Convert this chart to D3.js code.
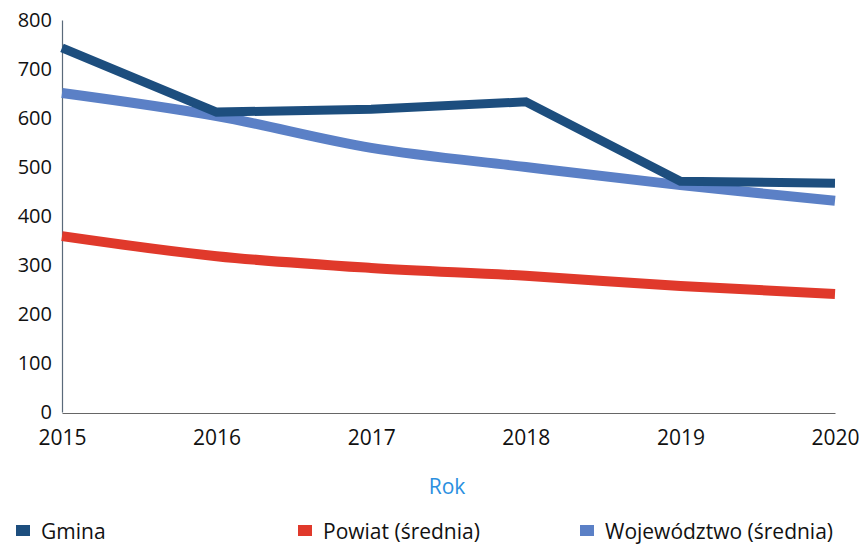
<!DOCTYPE html>
<html>
<head>
<meta charset="utf-8">
<script src="https://cdn.jsdelivr.net/npm/d3@7"></script>
<style>
  html, body { margin: 0; padding: 0; background: #fff; }
  svg { display: block; }
</style>
</head>
<body>
<svg id="chart" width="859" height="546"></svg>
<script>
const years = [2015, 2016, 2017, 2018, 2019, 2020];
const gmina = [743, 612, 618, 633, 471, 467];
const powiat = [359, 318, 294, 278, 257, 241];
const wojewodztwo = [651, 604, 539, 500, 463, 431];
const yTicks = [0, 100, 200, 300, 400, 500, 600, 700, 800];
const seriesNames = ["Gmina", "Powiat (średnia)", "Województwo (średnia)"];
const seriesColors = ["#1d4e7e", "#e0392b", "#5b80c6"];
const axisTitle = "Rok";

const svg = d3.select("#chart");
const font = "'Open Sans', 'DejaVu Sans', sans-serif";

const x = d3.scalePoint().domain(years).range([62, 835]);
const y = d3.scaleLinear().domain([0, 800]).range([412, 20]);

// y axis
const yAxis = svg.append("g").attr("transform", "translate(62,0)")
  .call(d3.axisLeft(y).tickValues(yTicks).tickSize(0).tickPadding(10));
yAxis.select(".domain").attr("stroke", "#5a6a7a").attr("stroke-width", 1.2);
yAxis.selectAll("text").attr("font-family", font).attr("font-size", 20).attr("fill", "#111");

// x axis
const xAxis = svg.append("g").attr("transform", "translate(0,413)")
  .call(d3.axisBottom(x).tickSize(0).tickPadding(17));
xAxis.select(".domain").attr("stroke", "#666").attr("stroke-width", 1);
xAxis.selectAll("text").attr("font-family", font).attr("font-size", 21).attr("fill", "#111");

svg.append("text").attr("x", 447).attr("y", 494).attr("text-anchor", "middle")
  .attr("font-family", font).attr("font-size", 21).attr("fill", "#2b8fdf").text(axisTitle);

const data = [gmina, powiat, wojewodztwo];
const curves = [d3.curveLinear, d3.curveMonotoneX, d3.curveMonotoneX];
const drawOrder = [1, 2, 0];
drawOrder.forEach(i => {
  const line = d3.line().x((d, j) => x(years[j])).y(d => y(d)).curve(curves[i]);
  svg.append("path").datum(data[i]).attr("d", line)
    .attr("fill", "none").attr("stroke", seriesColors[i])
    .attr("stroke-width", i === 0 ? 9 : 10).attr("stroke-linejoin", "miter");
});

// legend
const legX = [16, 298, 580];
seriesNames.forEach((n, i) => {
  const g = svg.append("g").attr("transform", `translate(${legX[i]},531)`);
  g.append("rect").attr("x", 0).attr("y", -6).attr("width", 14).attr("height", 11).attr("fill", seriesColors[i]);
  g.append("text").attr("x", 25).attr("y", 0).attr("dominant-baseline", "central")
    .attr("font-family", font).attr("font-size", 21).attr("fill", "#111").text(n);
});
</script>
</body>
</html>
